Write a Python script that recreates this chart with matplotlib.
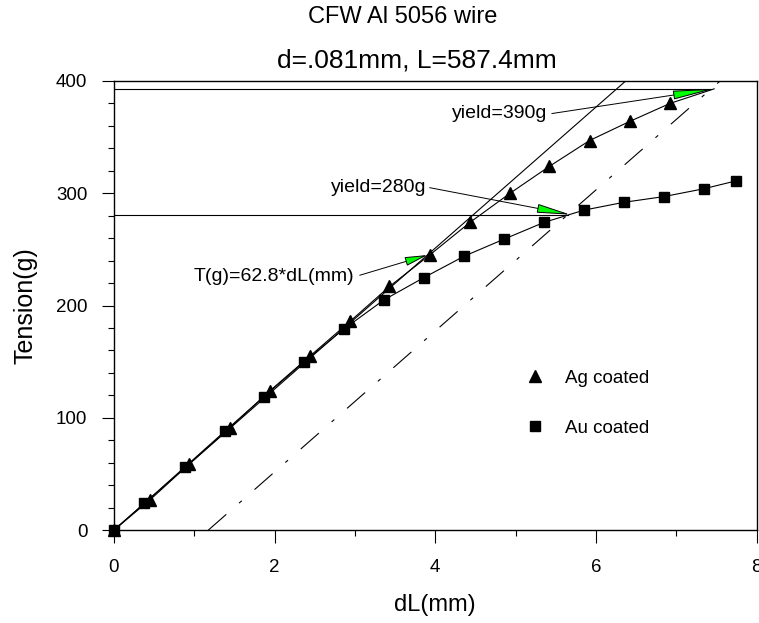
import matplotlib
matplotlib.use("Agg")
import matplotlib.pyplot as plt
from matplotlib.ticker import MultipleLocator
from matplotlib.lines import Line2D

plt.rcParams["font.family"] = ["Liberation Sans", "DejaVu Sans"]

# wire data
wire_len = 587.4          # mm
modulus = 62.8            # g per mm of stretch (linear fit)
offset = 0.002 * wire_len # 0.2% offset line

# Ag coated wire, last point is the yield point (no marker)
ag_dl = [0.0, 0.45, 0.94, 1.44, 1.94, 2.44, 2.94, 3.43, 3.93, 4.43, 4.93, 5.42, 5.92, 6.42, 6.92, 7.47]
ag_t = [0, 27, 59, 91, 124, 155, 186, 217, 245, 274, 300, 324, 347, 364, 380, 393]

# Au coated wire
au_dl = [0.0, 0.38, 0.88, 1.38, 1.87, 2.37, 2.86, 3.36, 3.86, 4.36, 4.85, 5.35, 5.85, 6.35, 6.84, 7.34, 7.74]
au_t = [0, 24, 56, 88, 119, 150, 179, 205, 225, 244, 259, 274, 285, 292, 297, 304, 311]

ag_yield = 393
au_yield = 281

fig = plt.figure(figsize=(7.59, 6.23), dpi=100)
ax = fig.add_axes([0.150, 0.149, 0.847, 0.721])

# linear fit through origin and the offset line
ax.plot([0, 400 / modulus], [0, 400], color="black", lw=0.8)
ax.plot([offset, offset + 400 / modulus], [0, 400], color="black", lw=0.8,
        dashes=(21.6, 15.3, 3.2, 15.3))

# yield levels
ax.plot([0, offset + ag_yield / modulus], [ag_yield, ag_yield], color="black", lw=0.8)
ax.plot([0, offset + au_yield / modulus], [au_yield, au_yield], color="black", lw=0.8)

# data
ax.plot(ag_dl, ag_t, color="black", lw=0.8, marker="^", ms=8,
        markevery=list(range(len(ag_dl) - 1)), clip_on=False)
ax.plot(au_dl, au_t, color="black", lw=0.8, marker="s", ms=7, clip_on=False)

# annotations
green = "#00ff00"
ax.annotate("", xy=(7.47, ag_yield), xytext=(5.45, 371),
            arrowprops=dict(arrowstyle="-|>,head_length=2.6,head_width=0.28",
                            fc=green, ec="black", lw=0.7, shrinkA=0, shrinkB=0))
ax.text(5.39, 371, "yield=390g", ha="right", va="center", fontsize=14)

ax.annotate("", xy=(5.68, au_yield), xytext=(3.93, 305),
            arrowprops=dict(arrowstyle="-|>,head_length=2.1,head_width=0.28",
                            fc=green, ec="black", lw=0.7, shrinkA=0, shrinkB=0))
ax.text(3.89, 305, "yield=280g", ha="right", va="center", fontsize=14)

ax.annotate("", xy=(3.90, 245), xytext=(3.06, 227),
            arrowprops=dict(arrowstyle="-|>,head_length=1.4,head_width=0.28",
                            fc=green, ec="black", lw=0.7, shrinkA=0, shrinkB=0))
ax.text(2.99, 226, "T(g)=62.8*dL(mm)", ha="right", va="center", fontsize=14)

# legend
handles = [Line2D([], [], ls="none", marker="^", ms=8, color="black"),
           Line2D([], [], ls="none", marker="s", ms=7, color="black")]
ax.legend(handles, ["Ag coated", "Au coated"], loc="center left",
          bbox_to_anchor=(0.614, 0.283), frameon=False, fontsize=13.5,
          handlelength=1.0, handletextpad=1.1, labelspacing=1.75)

ax.set_xlim(0, 8)
ax.set_ylim(0, 400)
ax.xaxis.set_major_locator(MultipleLocator(2))
ax.xaxis.set_minor_locator(MultipleLocator(1))
ax.yaxis.set_major_locator(MultipleLocator(100))
ax.yaxis.set_minor_locator(MultipleLocator(20))
ax.tick_params(which="major", direction="out", length=9, width=0.8, labelsize=13.5, pad=12)
ax.tick_params(which="minor", direction="out", length=4.5, width=0.8)
ax.tick_params(axis="y", which="major", pad=10)
for s in ax.spines.values():
    s.set_linewidth(1.0)

ax.set_xlabel("dL(mm)", fontsize=17, labelpad=13)
ax.set_ylabel("Tension(g)", fontsize=18, labelpad=13)

fig.text(0.53, 0.972, "CFW Al 5056 wire", ha="center", va="center", fontsize=17)
fig.text(0.549, 0.903, "d=.081mm, L=587.4mm", ha="center", va="center", fontsize=19)

fig.savefig("out.png", dpi=100)
